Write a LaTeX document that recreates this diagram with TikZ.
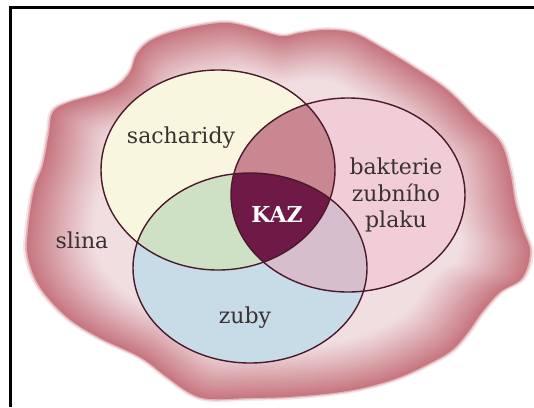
\documentclass[tikz,border=0pt]{standalone}
\usepackage{fontspec}
\setmainfont{DejaVu Serif}
\definecolor{blobdark}{HTML}{C7767F}
\definecolor{blobpale}{HTML}{F1DEE1}
\definecolor{cream}{HTML}{F8F6DE}
\definecolor{bpink}{HTML}{F0CDD7}
\definecolor{zblue}{HTML}{C8DCE8}
\definecolor{sbrose}{HTML}{C88791}
\definecolor{szgreen}{HTML}{CFE1C5}
\definecolor{bzmauve}{HTML}{D7BECD}
\definecolor{kazc}{HTML}{6E1946}
\definecolor{outl}{HTML}{4A1A2C}
\definecolor{txt}{HTML}{3A3132}
\tikzset{
  venn/.style={draw=outl, line width=1.4pt},
  lbl/.style={text=txt, font=\fontsize{22}{26.5}\selectfont, inner sep=0pt},
  frameline/.style={line width=2.7pt, black}
}
\begin{document}
\begin{tikzpicture}[x=1pt,y=-1pt]
\useasboundingbox (0,0) rectangle (534,407);
\def\blob{plot[smooth cycle, tension=0.6] coordinates{
(180,30) (220,23) (245,26) (280,36) (300,33) (325,30) (353,33) (380,47)
(413,67) (447,90) (475,118) (500,142) (510,172) (515,202) (523,230) (530,252)
(522,278) (500,292) (482,312) (468,332) (452,350) (430,363) (400,377) (367,387)
(333,393) (287,397) (250,398) (210,399) (190,393) (167,377) (140,357) (100,338)
(67,317) (40,287) (28,257) (28,230) (34,190) (43,165) (49,133) (53,112)
(70,102) (110,90) (129,74) (137,54) (152,40)}}
\def\Sell{(218,170) ellipse [x radius=117, y radius=100]}
\def\Bell{(348,195) ellipse [x radius=117, y radius=97]}
\def\Zell{(250,268) ellipse [x radius=117, y radius=95]}
% soft outer edge
\fill[blobdark!20!white, shift={(275,215)}, scale=1.015, shift={(-275,-215)}] \blob;
\fill[blobdark!55!white, shift={(275,215)}, scale=1.007, shift={(-275,-215)}] \blob;
% inner glow
\foreach \i in {0,...,36}{
  \pgfmathsetmacro\s{1-0.0075*\i}
  \pgfmathsetmacro\p{100*(1-\i/36)^1.1}
  \fill[blobdark!\p!blobpale, shift={(275,215)}, scale=\s, shift={(-275,-215)}] \blob;
}
% base sets
\fill[cream] \Sell;
\fill[bpink] \Bell;
\fill[zblue] \Zell;
\begin{scope}
  \clip \Sell;
  \fill[sbrose] \Bell;
  \fill[szgreen] \Zell;
\end{scope}
\begin{scope}
  \clip \Bell;
  \fill[bzmauve] \Zell;
\end{scope}
\begin{scope}
  \clip \Sell;
  \clip \Bell;
  \fill[kazc] \Zell;
\end{scope}
\draw[venn] \Sell;
\draw[venn] \Bell;
\draw[venn] \Zell;
% labels
\node[lbl] (sach) at (181,138) {sacharidy};
\node[lbl, align=center] (bakt) at (396,195) {bakterie\\zubního\\plaku};
\node[lbl, text=white, font=\bfseries\fontsize{22}{26}\selectfont] (kaz) at (277,214) {KAZ};
\node[lbl] (slina) at (82,240) {slina};
\node[lbl] (zuby) at (245,318) {zuby};
% frame
\coordinate (ftl) at (10.3,7.3);
\coordinate (ftr) at (534,7.3);
\coordinate (fbl) at (10.3,407);
\draw[frameline] (ftr) -- (ftl) -- (fbl);
\end{tikzpicture}
\end{document}
